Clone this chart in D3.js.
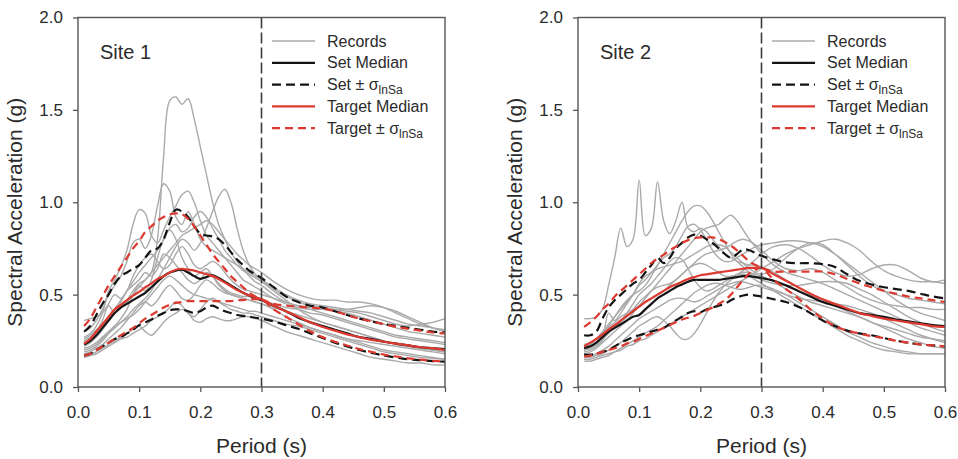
<!DOCTYPE html>
<html>
<head>
<meta charset="utf-8">
<script src="https://cdn.jsdelivr.net/npm/d3@7"></script>
<style>
  body { margin: 0; background: #fff; }
  text { font-family: "Liberation Sans", Arial, sans-serif; }
</style>
</head>
<body>
<div id="chart-area"></div>
<script>
// periods (s) shared by every curve
const periods = [0.01,0.02,0.03,0.04,0.05,0.06,0.07,0.08,0.09,0.10,
  0.11,0.12,0.13,0.14,0.15,0.16,0.17,0.18,0.19,0.20,
  0.21,0.22,0.23,0.24,0.25,0.26,0.27,0.28,0.29,0.30,
  0.32,0.34,0.36,0.38,0.40,0.42,0.44,0.46,0.48,0.50,0.52,0.54,0.56,0.58,0.60]

const xTicks = [0, 0.1, 0.2, 0.3, 0.4, 0.5, 0.6]
const yTicks = [0, 0.5, 1.0, 1.5, 2.0]
const conditioningPeriod = 0.3
const legendLabels = ["Records", "Set Median", "Set ± ", "Target Median", "Target ± "]

// ---- Site 1 ----
const site1Records = [
  [0.25,0.27,0.30,0.33,0.36,0.40,0.43,0.47,0.52,0.56, 0.58,0.62,0.80,1.25,1.55,1.57,1.53,1.56,1.45,1.30, 1.15,1.00,0.88,0.80,0.73,0.68,0.64,0.60,0.57,0.55, 0.50,0.46,0.44,0.42,0.40,0.38,0.36,0.34,0.32,0.30,0.28,0.27,0.26,0.25,0.24],
  [0.30,0.32,0.36,0.42,0.50,0.55,0.60,0.68,0.78,0.80, 0.75,0.82,0.98,1.10,1.06,0.92,0.88,0.95,0.88,0.80, 0.76,0.74,0.72,0.70,0.68,0.66,0.64,0.62,0.60,0.58, 0.54,0.50,0.47,0.45,0.44,0.43,0.42,0.41,0.40,0.38,0.36,0.34,0.33,0.32,0.31],
  [0.27,0.29,0.33,0.40,0.52,0.58,0.65,0.74,0.88,0.96, 0.94,0.82,0.78,0.85,0.92,0.98,1.04,1.06,1.00,0.90, 0.82,0.78,0.74,0.70,0.66,0.62,0.58,0.56,0.54,0.52, 0.48,0.45,0.43,0.42,0.42,0.41,0.40,0.38,0.36,0.34,0.32,0.30,0.29,0.28,0.27],
  [0.20,0.21,0.23,0.26,0.29,0.32,0.35,0.38,0.42,0.45, 0.48,0.52,0.58,0.64,0.70,0.76,0.80,0.78,0.74,0.78, 0.86,0.95,1.03,1.07,1.00,0.86,0.74,0.66,0.61,0.58, 0.53,0.49,0.46,0.44,0.43,0.42,0.42,0.43,0.44,0.43,0.41,0.38,0.35,0.32,0.30],
  [0.22,0.24,0.27,0.31,0.36,0.42,0.47,0.52,0.57,0.62, 0.66,0.70,0.74,0.80,0.86,0.88,0.84,0.86,0.92,0.95, 0.92,0.86,0.80,0.74,0.70,0.66,0.63,0.61,0.59,0.57, 0.52,0.47,0.42,0.38,0.35,0.33,0.31,0.29,0.27,0.25,0.23,0.22,0.21,0.20,0.19],
  [0.24,0.26,0.30,0.36,0.44,0.40,0.46,0.52,0.55,0.58, 0.62,0.60,0.64,0.72,0.70,0.66,0.62,0.58,0.56,0.58, 0.62,0.60,0.56,0.53,0.51,0.50,0.49,0.49,0.48,0.47, 0.45,0.43,0.42,0.40,0.39,0.37,0.35,0.33,0.31,0.29,0.27,0.26,0.25,0.24,0.23],
  [0.17,0.18,0.19,0.21,0.23,0.25,0.27,0.29,0.31,0.33, 0.30,0.28,0.31,0.35,0.38,0.40,0.42,0.40,0.36,0.35, 0.37,0.38,0.37,0.36,0.36,0.37,0.38,0.38,0.37,0.36, 0.33,0.30,0.28,0.26,0.24,0.22,0.20,0.18,0.16,0.15,0.14,0.13,0.13,0.12,0.12],
  [0.19,0.20,0.22,0.25,0.29,0.33,0.37,0.42,0.50,0.55, 0.52,0.58,0.70,0.80,0.85,0.80,0.70,0.64,0.60,0.62, 0.64,0.60,0.55,0.52,0.50,0.49,0.48,0.47,0.46,0.45, 0.42,0.38,0.35,0.32,0.30,0.28,0.26,0.25,0.24,0.23,0.22,0.21,0.20,0.19,0.18],
  [0.18,0.19,0.21,0.23,0.26,0.29,0.32,0.36,0.40,0.44, 0.46,0.44,0.47,0.52,0.55,0.52,0.48,0.47,0.50,0.55, 0.58,0.56,0.53,0.51,0.50,0.49,0.48,0.47,0.46,0.45, 0.43,0.41,0.39,0.37,0.35,0.33,0.31,0.29,0.27,0.25,0.23,0.22,0.21,0.20,0.19],
  [0.36,0.37,0.38,0.40,0.45,0.50,0.48,0.52,0.60,0.66, 0.70,0.72,0.68,0.64,0.66,0.72,0.76,0.72,0.66,0.64, 0.66,0.68,0.66,0.62,0.58,0.55,0.53,0.52,0.51,0.50, 0.48,0.46,0.44,0.43,0.42,0.42,0.41,0.40,0.38,0.36,0.34,0.33,0.34,0.35,0.37],
  [0.16,0.17,0.18,0.20,0.22,0.24,0.26,0.27,0.29,0.31, 0.33,0.36,0.38,0.40,0.43,0.46,0.44,0.40,0.38,0.42, 0.46,0.48,0.46,0.44,0.42,0.41,0.40,0.40,0.39,0.38, 0.36,0.34,0.33,0.31,0.29,0.27,0.25,0.23,0.21,0.19,0.18,0.17,0.16,0.155,0.15],
  [0.26,0.28,0.31,0.34,0.37,0.40,0.43,0.46,0.50,0.54, 0.58,0.62,0.66,0.70,0.74,0.78,0.82,0.84,0.86,0.88, 0.90,0.88,0.84,0.80,0.76,0.72,0.69,0.66,0.64,0.62, 0.57,0.53,0.50,0.48,0.47,0.47,0.46,0.46,0.45,0.43,0.40,0.37,0.34,0.32,0.30],
  [0.21,0.22,0.24,0.27,0.30,0.33,0.35,0.37,0.39,0.42, 0.46,0.50,0.54,0.58,0.60,0.58,0.55,0.52,0.50,0.49, 0.48,0.47,0.46,0.45,0.44,0.43,0.42,0.41,0.41,0.40, 0.38,0.36,0.34,0.32,0.30,0.28,0.26,0.24,0.22,0.20,0.19,0.18,0.17,0.16,0.15]
]
const site1SetMedian = [0.23,0.25,0.28,0.32,0.36,0.40,0.43,0.45,0.47,0.49, 0.51,0.54,0.57,0.60,0.62,0.63,0.635,0.62,0.60,0.585, 0.595,0.605,0.59,0.57,0.55,0.53,0.51,0.495,0.48,0.47, 0.44,0.41,0.375,0.35,0.33,0.31,0.29,0.27,0.26,0.245,0.235,0.225,0.215,0.21,0.205]
const site1SetPlus = [0.30,0.33,0.39,0.45,0.50,0.56,0.60,0.62,0.64,0.66, 0.70,0.74,0.75,0.80,0.89,0.96,0.95,0.92,0.87,0.83, 0.82,0.815,0.80,0.77,0.73,0.69,0.66,0.63,0.61,0.59, 0.54,0.49,0.46,0.44,0.43,0.41,0.39,0.37,0.355,0.34,0.33,0.32,0.31,0.30,0.295]
const site1SetMinus = [0.17,0.18,0.20,0.22,0.24,0.26,0.27,0.29,0.31,0.335, 0.35,0.365,0.385,0.40,0.415,0.42,0.42,0.41,0.40,0.41, 0.43,0.44,0.425,0.41,0.40,0.39,0.385,0.38,0.375,0.37, 0.355,0.335,0.315,0.29,0.265,0.24,0.22,0.20,0.185,0.17,0.16,0.15,0.145,0.14,0.137]
const site1TargetMedian = [0.235,0.26,0.30,0.34,0.38,0.42,0.445,0.47,0.495,0.515, 0.54,0.56,0.585,0.60,0.62,0.635,0.64,0.635,0.63,0.62, 0.61,0.60,0.585,0.565,0.545,0.525,0.51,0.495,0.485,0.475, 0.44,0.41,0.38,0.35,0.325,0.305,0.285,0.27,0.255,0.245,0.235,0.225,0.215,0.21,0.20]
const site1TargetPlus = [0.33,0.37,0.43,0.49,0.55,0.60,0.65,0.70,0.75,0.79, 0.84,0.87,0.90,0.92,0.935,0.94,0.935,0.91,0.87,0.82, 0.77,0.72,0.68,0.64,0.60,0.57,0.54,0.51,0.49,0.475, 0.45,0.44,0.435,0.43,0.425,0.41,0.39,0.37,0.355,0.34,0.325,0.315,0.305,0.295,0.29]
const site1TargetMinus = [0.17,0.18,0.20,0.22,0.24,0.26,0.28,0.30,0.32,0.345, 0.37,0.39,0.41,0.43,0.445,0.455,0.46,0.465,0.465,0.465, 0.465,0.465,0.465,0.465,0.465,0.47,0.47,0.475,0.475,0.475, 0.42,0.38,0.34,0.30,0.27,0.245,0.225,0.205,0.19,0.175,0.165,0.155,0.148,0.142,0.137]

// ---- Site 2 ----
const site2Records = [
  [0.37,0.37,0.38,0.42,0.55,0.70,0.86,0.76,0.80,1.12, 0.82,0.86,1.11,0.90,0.83,0.90,1.00,0.86,0.84,0.86, 0.84,0.80,0.76,0.72,0.70,0.68,0.67,0.66,0.66,0.65, 0.62,0.58,0.54,0.50,0.47,0.44,0.41,0.38,0.35,0.33,0.31,0.29,0.27,0.26,0.25],
  [0.22,0.23,0.26,0.30,0.34,0.38,0.42,0.46,0.50,0.55, 0.58,0.62,0.66,0.72,0.78,0.84,0.90,0.95,0.98,0.98, 0.95,0.90,0.84,0.78,0.72,0.68,0.65,0.62,0.60,0.58, 0.56,0.55,0.55,0.56,0.57,0.57,0.56,0.53,0.50,0.46,0.42,0.38,0.35,0.32,0.30],
  [0.18,0.19,0.21,0.24,0.27,0.30,0.33,0.36,0.40,0.44, 0.48,0.52,0.56,0.60,0.64,0.68,0.72,0.76,0.80,0.84, 0.86,0.87,0.88,0.91,0.93,0.90,0.85,0.80,0.76,0.72, 0.66,0.62,0.60,0.58,0.56,0.53,0.50,0.47,0.44,0.41,0.38,0.35,0.32,0.30,0.28],
  [0.20,0.21,0.24,0.28,0.33,0.38,0.43,0.47,0.50,0.52, 0.55,0.60,0.66,0.70,0.72,0.76,0.82,0.87,0.88,0.85, 0.80,0.74,0.70,0.68,0.68,0.70,0.72,0.74,0.76,0.77, 0.78,0.79,0.79,0.78,0.76,0.72,0.67,0.62,0.57,0.52,0.47,0.43,0.40,0.38,0.36],
  [0.15,0.15,0.16,0.17,0.18,0.19,0.20,0.22,0.23,0.25, 0.26,0.28,0.30,0.32,0.34,0.36,0.38,0.40,0.42,0.44, 0.46,0.48,0.50,0.52,0.54,0.56,0.58,0.60,0.62,0.64, 0.68,0.72,0.75,0.77,0.79,0.80,0.78,0.74,0.68,0.63,0.60,0.58,0.57,0.57,0.56],
  [0.23,0.24,0.26,0.29,0.32,0.35,0.38,0.40,0.42,0.44, 0.46,0.48,0.50,0.52,0.55,0.58,0.61,0.64,0.66,0.67, 0.66,0.64,0.62,0.60,0.60,0.61,0.63,0.66,0.69,0.72, 0.76,0.77,0.75,0.71,0.66,0.62,0.60,0.61,0.64,0.66,0.66,0.63,0.59,0.57,0.58],
  [0.16,0.16,0.17,0.18,0.20,0.22,0.24,0.27,0.30,0.33, 0.35,0.37,0.38,0.36,0.33,0.29,0.26,0.26,0.29,0.34, 0.40,0.46,0.51,0.55,0.58,0.60,0.61,0.60,0.58,0.56, 0.52,0.48,0.44,0.40,0.36,0.32,0.28,0.25,0.22,0.20,0.19,0.18,0.18,0.18,0.18],
  [0.19,0.20,0.22,0.25,0.30,0.33,0.36,0.40,0.45,0.50, 0.53,0.56,0.60,0.64,0.68,0.70,0.69,0.64,0.58,0.54, 0.52,0.53,0.55,0.57,0.59,0.61,0.62,0.62,0.61,0.60, 0.57,0.53,0.49,0.46,0.44,0.42,0.40,0.38,0.35,0.32,0.29,0.26,0.24,0.22,0.21],
  [0.17,0.17,0.18,0.20,0.22,0.25,0.28,0.31,0.34,0.37, 0.39,0.41,0.43,0.45,0.47,0.48,0.48,0.47,0.46,0.47, 0.49,0.51,0.53,0.55,0.56,0.57,0.57,0.56,0.55,0.54, 0.52,0.50,0.48,0.47,0.46,0.45,0.44,0.42,0.40,0.37,0.34,0.31,0.28,0.26,0.24],
  [0.21,0.22,0.24,0.27,0.40,0.36,0.40,0.45,0.50,0.56, 0.60,0.62,0.64,0.65,0.66,0.67,0.68,0.70,0.72,0.74, 0.76,0.77,0.77,0.76,0.73,0.70,0.67,0.64,0.62,0.61, 0.64,0.70,0.75,0.78,0.77,0.72,0.66,0.60,0.55,0.52,0.50,0.48,0.47,0.46,0.45],
  [0.14,0.14,0.15,0.16,0.17,0.19,0.21,0.23,0.25,0.27, 0.29,0.31,0.33,0.36,0.39,0.42,0.45,0.48,0.51,0.53, 0.55,0.56,0.56,0.55,0.54,0.53,0.53,0.54,0.55,0.55, 0.53,0.50,0.46,0.42,0.38,0.34,0.30,0.27,0.24,0.22,0.20,0.19,0.18,0.18,0.18],
  [0.20,0.21,0.23,0.26,0.29,0.32,0.35,0.38,0.42,0.46, 0.49,0.52,0.54,0.55,0.56,0.58,0.61,0.64,0.67,0.70, 0.72,0.73,0.74,0.75,0.77,0.79,0.80,0.79,0.77,0.74, 0.68,0.64,0.63,0.64,0.62,0.58,0.54,0.50,0.47,0.45,0.44,0.43,0.43,0.42,0.42]
]
const site2SetMedian = [0.21,0.22,0.24,0.27,0.30,0.32,0.34,0.36,0.38,0.39, 0.42,0.45,0.48,0.50,0.52,0.54,0.555,0.57,0.58,0.58, 0.58,0.58,0.58,0.585,0.59,0.595,0.60,0.60,0.595,0.59, 0.575,0.55,0.52,0.49,0.46,0.44,0.42,0.40,0.39,0.38,0.365,0.355,0.345,0.335,0.33]
const site2SetPlus = [0.28,0.28,0.30,0.37,0.43,0.47,0.50,0.53,0.56,0.58, 0.62,0.66,0.70,0.67,0.70,0.75,0.78,0.81,0.825,0.82, 0.80,0.78,0.75,0.72,0.70,0.72,0.745,0.74,0.725,0.71, 0.69,0.675,0.67,0.67,0.665,0.65,0.61,0.575,0.555,0.54,0.53,0.52,0.505,0.49,0.48]
const site2SetMinus = [0.175,0.175,0.18,0.19,0.20,0.22,0.24,0.255,0.27,0.28, 0.29,0.30,0.31,0.32,0.34,0.36,0.38,0.40,0.41,0.405, 0.42,0.43,0.44,0.45,0.47,0.485,0.495,0.50,0.495,0.49, 0.475,0.46,0.435,0.40,0.36,0.33,0.305,0.29,0.28,0.265,0.25,0.24,0.23,0.225,0.22]
const site2TargetMedian = [0.22,0.24,0.26,0.285,0.31,0.335,0.36,0.385,0.41,0.435, 0.46,0.48,0.50,0.52,0.54,0.555,0.57,0.585,0.595,0.605, 0.61,0.615,0.62,0.625,0.63,0.635,0.64,0.645,0.645,0.645, 0.61,0.575,0.54,0.505,0.475,0.45,0.425,0.40,0.385,0.37,0.36,0.35,0.34,0.33,0.325]
const site2TargetPlus = [0.325,0.35,0.38,0.42,0.45,0.49,0.52,0.55,0.58,0.61, 0.64,0.67,0.695,0.715,0.74,0.76,0.78,0.795,0.805,0.81, 0.81,0.81,0.80,0.785,0.765,0.74,0.71,0.68,0.66,0.645, 0.625,0.625,0.625,0.625,0.625,0.61,0.585,0.56,0.54,0.52,0.505,0.49,0.48,0.47,0.46]
const site2TargetMinus = [0.165,0.17,0.18,0.19,0.20,0.21,0.22,0.235,0.245,0.26, 0.275,0.29,0.305,0.32,0.335,0.35,0.365,0.375,0.385,0.40, 0.415,0.43,0.45,0.47,0.50,0.54,0.58,0.615,0.635,0.645, 0.58,0.53,0.48,0.42,0.37,0.33,0.305,0.29,0.275,0.265,0.25,0.24,0.23,0.225,0.22]

const MARGIN = { TOP: 17.5, BOTTOM: 72 }
const WIDTH = 367
const HEIGHT = 459 - MARGIN.TOP - MARGIN.BOTTOM
const PANEL_LEFT = [78, 578]

const GRAY = "#aaaaaa", BLACK = "#141414", RED = "#dc3a30", AXIS = "#555555", INK = "#2b2b2b"

const svg = d3.select('#chart-area').append("svg")
  .attr("width", 958)
  .attr("height", 459)

const x = d3.scaleLinear().domain([0, 0.6]).range([0, WIDTH])
const y = d3.scaleLinear().domain([0, 2]).range([HEIGHT, 0])

const line = d3.line()
  .x((d, i) => x(periods[i]))
  .y(d => y(d))
  .curve(d3.curveCatmullRom.alpha(0.5))

const styles = [
  { stroke: GRAY, width: 1.4, dash: null },
  { stroke: BLACK, width: 2.2, dash: null },
  { stroke: BLACK, width: 2.2, dash: "9,5" },
  { stroke: RED, width: 2.2, dash: null },
  { stroke: RED, width: 2.2, dash: "8,5" }
]

function drawPanel(left, siteName, records, setMed, setPlus, setMinus, tgtMed, tgtPlus, tgtMinus) {
  const g = svg.append("g").attr("transform", `translate(${left}, ${MARGIN.TOP})`)

  // x axis
  const xAxisCall = d3.axisBottom(x)
    .tickValues(xTicks)
    .tickFormat(d3.format(".1f"))
    .tickSize(5)
    .tickPadding(14)
  const xa = g.append("g").attr("transform", `translate(0, ${HEIGHT})`).call(xAxisCall)
  xa.select(".domain").remove()
  xa.selectAll("line").attr("stroke", AXIS).attr("stroke-width", 1.3)
  xa.selectAll("text").attr("font-size", "17px").attr("fill", INK)
    .attr("font-family", '"Liberation Sans", Arial, sans-serif')

  // y axis
  const yAxisCall = d3.axisLeft(y)
    .tickValues(yTicks)
    .tickFormat(d3.format(".1f"))
    .tickSize(5)
    .tickPadding(10)
  const ya = g.append("g").call(yAxisCall)
  ya.select(".domain").remove()
  ya.selectAll("line").attr("stroke", AXIS).attr("stroke-width", 1.3)
  ya.selectAll("text").attr("font-size", "17px").attr("fill", INK)
    .attr("font-family", '"Liberation Sans", Arial, sans-serif')

  // records
  g.selectAll("path.record")
    .data(records)
    .enter().append("path")
    .attr("class", "record")
    .attr("d", line)
    .attr("fill", "none")
    .attr("stroke", GRAY)
    .attr("stroke-width", 1.4)

  const stats = [
    [setMed, styles[1]], [setPlus, styles[2]], [setMinus, styles[2]],
    [tgtMed, styles[3]], [tgtPlus, styles[4]], [tgtMinus, styles[4]]
  ]
  stats.forEach(([vals, s]) => {
    g.append("path")
      .attr("d", line(vals))
      .attr("fill", "none")
      .attr("stroke", s.stroke)
      .attr("stroke-width", s.width)
      .attr("stroke-dasharray", s.dash)
  })

  // conditioning period line
  g.append("line")
    .attr("x1", x(conditioningPeriod)).attr("x2", x(conditioningPeriod))
    .attr("y1", 0).attr("y2", HEIGHT)
    .attr("stroke", "#3c3c3c")
    .attr("stroke-width", 1.6)
    .attr("stroke-dasharray", "11,4")

  // frame
  g.append("rect")
    .attr("width", WIDTH).attr("height", HEIGHT)
    .attr("fill", "none")
    .attr("stroke", AXIS)
    .attr("stroke-width", 1.4)

  // site label
  g.append("text")
    .attr("x", 22).attr("y", 41)
    .attr("font-size", "20px")
    .attr("fill", INK)
    .text(siteName)

  // legend
  const lg = g.append("g").attr("transform", "translate(194, 0)")
  legendLabels.forEach((lab, i) => {
    const yy = 23.5 + i * 21.8
    const s = styles[i]
    lg.append("line")
      .attr("x1", 0).attr("x2", 43)
      .attr("y1", yy).attr("y2", yy)
      .attr("stroke", s.stroke)
      .attr("stroke-width", i === 0 ? 1.6 : 2.2)
      .attr("stroke-dasharray", s.dash)
    const t = lg.append("text")
      .attr("x", 55).attr("y", yy + 5.5)
      .attr("font-size", "16px")
      .attr("fill", INK)
      .text(lab)
    if (i === 2 || i === 4) {
      t.append("tspan").text("σ")
      t.append("tspan").attr("font-size", "12px").attr("dy", 4).text("lnSa")
    }
  })

  // axis titles
  g.append("text")
    .attr("x", -(HEIGHT / 2) - 10)
    .attr("y", -56)
    .attr("font-size", "21px")
    .attr("fill", INK)
    .attr("text-anchor", "middle")
    .attr("transform", "rotate(-90)")
    .text("Spectral Acceleration (g)")

  g.append("text")
    .attr("x", WIDTH / 2)
    .attr("y", HEIGHT + 66)
    .attr("font-size", "21px")
    .attr("fill", INK)
    .attr("text-anchor", "middle")
    .text("Period (s)")
}

drawPanel(PANEL_LEFT[0], "Site 1", site1Records, site1SetMedian, site1SetPlus, site1SetMinus,
  site1TargetMedian, site1TargetPlus, site1TargetMinus)
drawPanel(PANEL_LEFT[1], "Site 2", site2Records, site2SetMedian, site2SetPlus, site2SetMinus,
  site2TargetMedian, site2TargetPlus, site2TargetMinus)
</script>
</body>
</html>
